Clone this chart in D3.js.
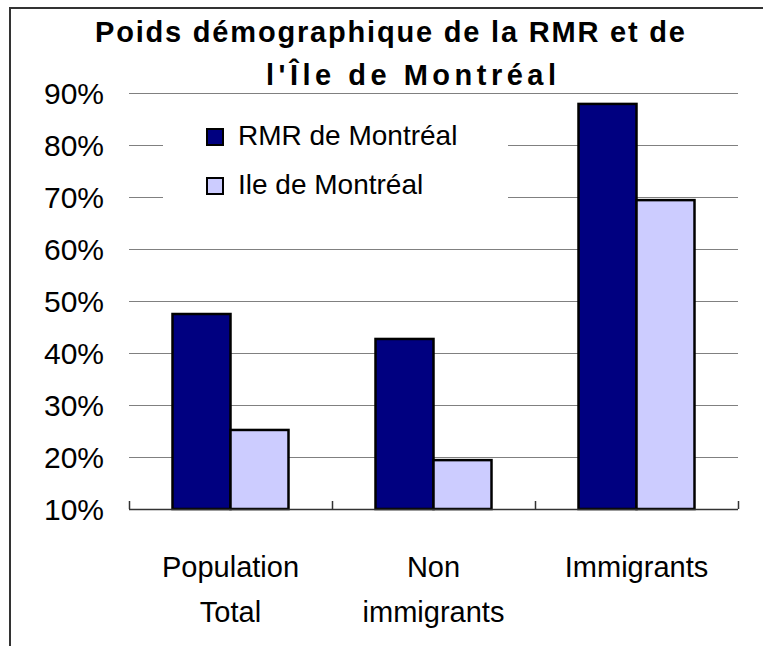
<!DOCTYPE html>
<meta charset="utf-8">
<style>
  body { margin: 0; background: #fff; overflow: hidden; }
  svg { display: block; }
  text { font-family: "Liberation Sans", Arial, sans-serif; }
</style>

<!-- Load d3.js -->
<script src="https://d3js.org/d3.v7.min.js"></script>

<div id="my_dataviz"></div>

<script>

// data
var categories = ["Population Total", "Non immigrants", "Immigrants"];
var categoryLines = [["Population", "Total"], ["Non", "immigrants"], ["Immigrants"]];
var series = ["RMR de Montréal", "Ile de Montréal"];
var rmrValues = [0.475, 0.427, 0.879];
var ileValues = [0.252, 0.194, 0.694];
var yTicks = [0.1, 0.2, 0.3, 0.4, 0.5, 0.6, 0.7, 0.8, 0.9];
var titleLines = ["Poids démographique de la RMR et de", "l'Île de Montréal"];

var colors = {"RMR de Montréal": "#000080", "Ile de Montréal": "#ccccff"};

var width = 763, height = 646;
var plot = {left: 129, right: 738, top: 93, bottom: 509};

var svg = d3.select("#my_dataviz")
  .append("svg")
    .attr("width", width)
    .attr("height", height);

// outer frame of the chart area (runs off the page right and bottom)
svg.append("rect")
  .attr("x", 10)
  .attr("y", 8)
  .attr("width", 800)
  .attr("height", 700)
  .attr("fill", "#fff")
  .attr("stroke", "#333")
  .attr("stroke-width", 2);

// title, two lines
svg.append("text")
  .attr("x", 95).attr("y", 42)
  .attr("textLength", 590).attr("lengthAdjust", "spacing")
  .style("font-size", "29px").style("font-weight", "bold")
  .text(titleLines[0]);
svg.append("text")
  .attr("x", 266).attr("y", 85)
  .attr("textLength", 290).attr("lengthAdjust", "spacing")
  .style("font-size", "29px").style("font-weight", "bold")
  .text(titleLines[1]);

// scales
var x = d3.scaleBand()
  .domain(categories)
  .range([plot.left, plot.right])
  .padding(0);

var xSub = d3.scaleBand()
  .domain(series)
  .range([0, x.bandwidth()])
  .paddingInner(0)
  .paddingOuter(0.75);

var y = d3.scaleLinear()
  .domain([0.1, 0.9])
  .range([plot.bottom, plot.top]);

// gridlines
svg.append("g")
  .selectAll("line")
  .data(yTicks.slice(1))
  .enter().append("line")
    .attr("x1", plot.left)
    .attr("x2", plot.right)
    .attr("y1", function(d) { return y(d) + 0.5; })
    .attr("y2", function(d) { return y(d) + 0.5; })
    .attr("stroke", "#808080")
    .attr("stroke-width", 1);

// Y tick labels
svg.append("g")
  .selectAll("text")
  .data(yTicks)
  .enter().append("text")
    .attr("x", 104)
    .attr("y", function(d) { return y(d); })
    .attr("dy", "0.36em")
    .attr("text-anchor", "end")
    .style("font-size", "30px")
    .text(function(d) { return d3.format(".0%")(d); });

// legend (white box hides the gridlines behind it)
var legend = svg.append("g");
legend.append("rect")
  .attr("x", 163).attr("y", 108)
  .attr("width", 345).attr("height", 118)
  .attr("fill", "#fff");
series.forEach(function(s, i) {
  legend.append("rect")
    .attr("x", 207).attr("y", 129 + i * 49)
    .attr("width", 16).attr("height", 16)
    .attr("fill", colors[s])
    .attr("stroke", "#000")
    .attr("stroke-width", 2);
  legend.append("text")
    .attr("x", 238).attr("y", 145 + i * 49)
    .style("font-size", "28px")
    .text(s);
});

// bars
var table = categories.map(function(c, i) {
  return {category: c, values: [
    {key: series[0], value: rmrValues[i]},
    {key: series[1], value: ileValues[i]}
  ]};
});

svg.append("g")
  .selectAll("g")
  .data(table)
  .enter().append("g")
    .attr("transform", function(d) { return "translate(" + x(d.category) + ",0)"; })
  .selectAll("rect")
  .data(function(d) { return d.values; })
  .enter().append("rect")
    .attr("x", function(d) { return xSub(d.key); })
    .attr("y", function(d) { return y(d.value); })
    .attr("width", xSub.bandwidth())
    .attr("height", function(d) { return y(0.1) - y(d.value); })
    .attr("fill", function(d) { return colors[d.key]; })
    .attr("stroke", "#000")
    .attr("stroke-width", 2.5);

// category axis: baseline and inward ticks at band edges
var xAxis = svg.append("g");
xAxis.append("line")
  .attr("x1", plot.left).attr("x2", plot.right)
  .attr("y1", plot.bottom + 0.5).attr("y2", plot.bottom + 0.5)
  .attr("stroke", "#333").attr("stroke-width", 1.5);
xAxis.selectAll("line.tick")
  .data(categories.map(function(c) { return x(c); }).concat([plot.right]))
  .enter().append("line")
    .attr("class", "tick")
    .attr("x1", function(d) { return d + 0.5; })
    .attr("x2", function(d) { return d + 0.5; })
    .attr("y1", plot.bottom - 8)
    .attr("y2", plot.bottom)
    .attr("stroke", "#333").attr("stroke-width", 1.5);

// category labels (wrapped)
var labels = svg.append("g")
  .selectAll("text")
  .data(categories)
  .enter().append("text")
    .attr("text-anchor", "middle")
    .style("font-size", "29px");
labels.each(function(c, i) {
  var t = d3.select(this);
  categoryLines[i].forEach(function(line, j) {
    t.append("tspan")
      .attr("x", x(c) + x.bandwidth() / 2)
      .attr("y", 577 + j * 45)
      .text(line);
  });
});

</script>
